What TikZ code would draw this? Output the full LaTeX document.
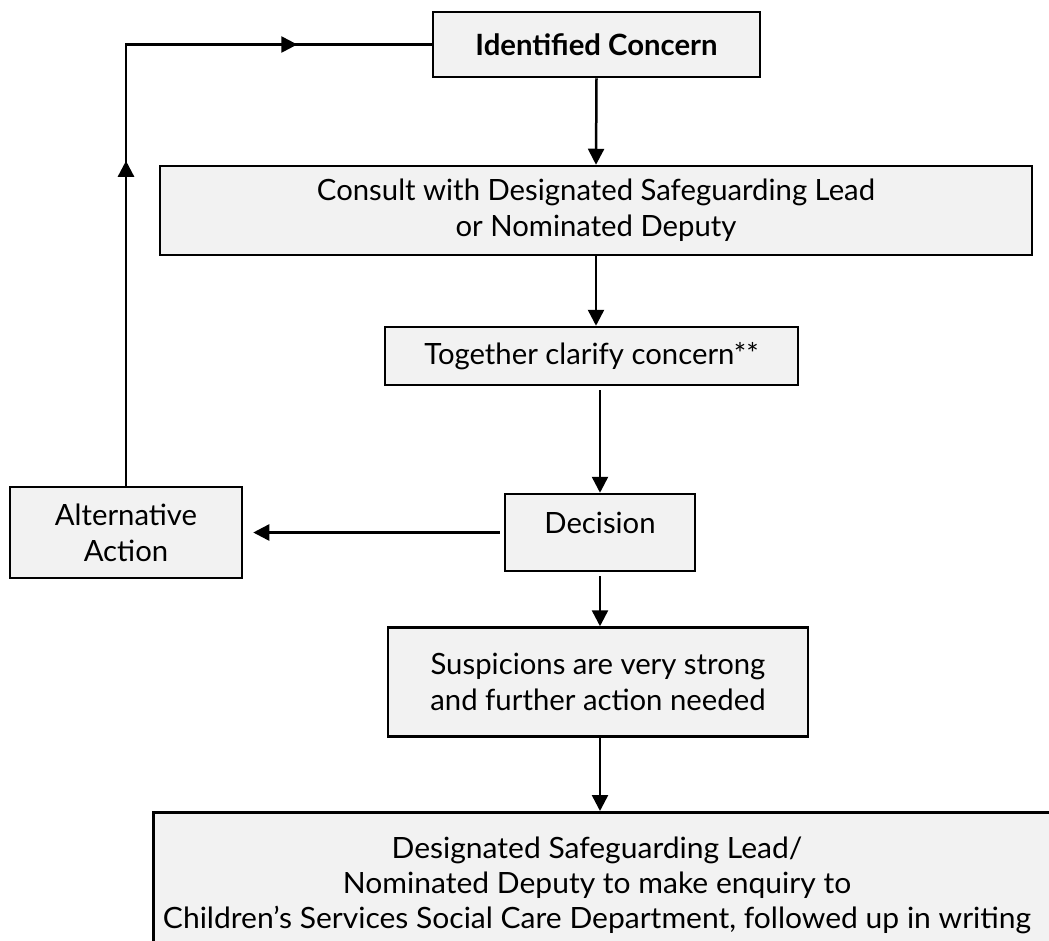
\documentclass[tikz,border=0pt]{standalone}
\usepackage{fontspec}
\setmainfont{Lato}
\usetikzlibrary{arrows.meta,decorations.markings,calc}
\definecolor{boxfill}{HTML}{F2F2F2}
\tikzset{
  box/.style={draw=black, line width=2.5pt, fill=boxfill, inner sep=0pt, align=center, font=\fontsize{29.3}{36}\selectfont},
  txt/.style={inner sep=0pt, align=center, font=\fontsize{29.3}{36}\selectfont},
  conn/.style={line width=2.5pt, -{Triangle[length=16pt,width=16pt]}},
  plain/.style={line width=2.5pt},
}
\begin{document}
\begin{tikzpicture}[x=1pt,y=-1pt]
\clip (0,0) rectangle (1049,940);
\fill[white] (0,0) rectangle (1049,940);
\node[box, minimum width=327pt, minimum height=65pt] (ic) at (596.5,44.5) {\textbf{Identified Concern}};
\node[box, minimum width=872pt, minimum height=89pt] (cons) at (596,210.5) {Consult with Designated Safeguarding Lead\\or Nominated Deputy};
\node[box, minimum width=413pt, minimum height=58pt] (tog) at (591.5,356) {Together clarify concern**};
\node[box, minimum width=190pt, minimum height=77pt] (dec) at (600,532.5) {};
\node[txt] (dect) at (600,523) {Decision};
\node[box, minimum width=232pt, minimum height=91pt] (alt) at (126,532.5) {Alternative\\Action};
\node[box, minimum width=420pt, minimum height=109pt] (sus) at (598,682) {Suspicions are very strong\\and further action needed};
\node[box, minimum width=1000pt, minimum height=200pt, anchor=north west] (bot) at (152,811) {};
\node[txt] (bott) at (597,886) {\scalebox{1.025}[1]{\begin{tabular}{@{}c@{}}Designated Safeguarding Lead/\\[-1pt]Nominated Deputy to make enquiry to\\[-1pt]Children’s Services Social Care Department, followed up in writing\end{tabular}}};
\draw[conn] (ic.south) -- (cons.north);
\draw[conn] (cons.south) -- (cons.south |- tog.north);
\draw[conn] ($(tog.south -| dec.north)+(0,4)$) -- (dec.north);
\draw[conn, shorten <=4pt, shorten >=10pt] (alt.east -| dec.west) -- (alt.east);
\draw[conn, shorten <=4pt] (dec.south) -- (dec.south |- sus.north);
\draw[conn] ($(sus.south -| dec.south)+(0,-2)$) -- (bot.north -| dec.south);
\coordinate (corner) at (alt.north |- ic.west);
\draw[plain, postaction={decorate}, decoration={markings,
  mark=at position 0.435 with {\arrow{Triangle[length=16pt,width=16pt]}},
  mark=at position 0.82 with {\arrow{Triangle[length=16pt,width=16pt]}}}]
  (alt.north) -- (corner) -- (ic.west);
\end{tikzpicture}
\end{document}
